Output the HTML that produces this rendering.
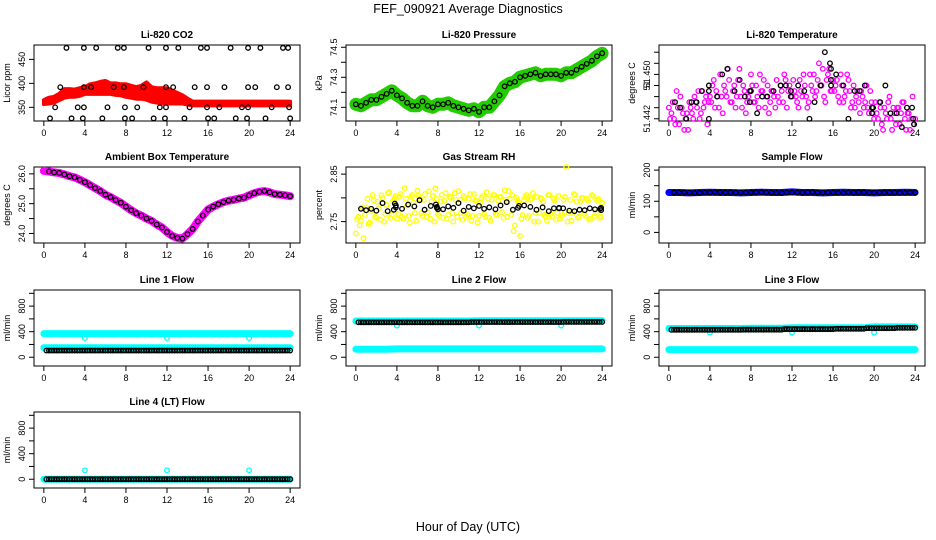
<!DOCTYPE html>
<html><head><meta charset="utf-8"><style>
html,body{margin:0;padding:0;background:#fff;}
svg{display:block;font-family:"Liberation Sans",sans-serif;}
</style></head><body>
<svg id="chart" width="936" height="540" viewBox="0 0 936 540" xmlns="http://www.w3.org/2000/svg">
<rect width="936" height="540" fill="#fff"/>
<text x="468" y="13" text-anchor="middle" font-size="12.5">FEF_090921  Average Diagnostics</text>
<text x="468" y="531" text-anchor="middle" font-size="12.5">Hour of Day (UTC)</text>
</svg>
<script>
// ---- data ----
const co2Upper=[365,370,372,378,388,388,387,390,392,398,400,403,405,400,400,398,398,395,392,395,402,392,390,390,390,385,380,375,368,362,362,362,362,362,362,362,362,362,362,362,362,362,362,362,362,362,362,362,362];
const co2Lower=[357,358,360,365,370,372,372,374,378,378,378,378,378,378,376,375,372,370,368,368,366,362,360,358,358,358,358,358,356,354,354,354,354,354,354,354,354,354,354,354,354,354,354,354,354,354,354,354,354];
const co2BlackHours=[2.2,3.9,5.1,7.2,7.8,10.2,11.9,13.1,15.3,15.9,18.2,19.9,21.1,23.3,23.8,1.6,3.9,4.6,6.8,7.8,9.7,11.9,12.6,14.7,15.9,17.6,19.9,20.6,22.7,23.8,1.1,3.3,3.9,6.2,7.9,9.1,11.3,11.9,14.2,15.9,17.1,19.3,19.9,22.2,23.9,0.6,2.7,3.8,5.7,7.9,8.6,10.7,11.8,13.7,16.0,16.6,18.7,19.8,21.6,24.0];
const co2BlackValues=[474,474,474,474,474,474,474,474,474,474,474,474,474,474,474,392,392,392,392,392,392,392,392,392,392,392,392,392,392,392,350,350,350,350,350,350,350,350,350,350,350,350,350,350,350,327,327,327,327,327,327,327,327,327,327,327,327,327,327,327];
const pressure=[74.12,74.11,74.13,74.15,74.15,74.17,74.19,74.21,74.18,74.16,74.13,74.11,74.11,74.14,74.11,74.10,74.12,74.12,74.13,74.11,74.10,74.09,74.08,74.09,74.07,74.10,74.10,74.14,74.18,74.24,74.26,74.27,74.30,74.31,74.32,74.33,74.31,74.32,74.32,74.32,74.31,74.33,74.33,74.35,74.37,74.39,74.41,74.44,74.46];
const tempBase=51.440; // black offsets: thousandths above base
const tempMagentaBase=51.438; // magenta offsets: thousandths above this base
const tempOffsetA=[6,5,4,9,3,6,2,5,7, 5,8,6,4,9,7,3,8, 10,6,8,12,5,9,13,7, 9,6,11,8,10,5,8,12, 7,10,6,9,11,8,5,9, 8,11,7,9,12,6,10,8, 9,7,11,8,10,6,12,9, 8,11,10,13,7,12,9,11, 10,8,12,7,9,11,6,10, 8,7,9,6,10,5,7,4, 5,7,3,6,4,8,2,5, 6,3,7,4,5,2,8,4];
const tempOffsetB=[4,7,3,6,8,5,4,2, 6,4,7,9,5,6,8,7, 7,11,9,6,8,10,8,11, 7,10,8,13,6,9,7,9, 10,7,8,12,9,6,10,7, 9,6,8,10,7,11,9,8, 11,8,6,9,12,8,7,10, 12,9,14,10,8,11,13,9, 9,11,7,10,8,12,9,7, 6,9,5,8,7,6,9,5, 7,4,6,2,5,7,4,6, 3,6,5,7,2,5,4,3];
const tempBlackHours=[0.6,1.1,1.7,2.2,2.7,3.2,3.9,3.9,3.9,4.7,5.2,5.7,6.4,6.9,7.4,7.9,7.9,8.0,8.6,9.1,9.6,10.2,10.9,11.4,11.9,11.9,12.6,13.2,13.7,14.2,14.8,15.2,15.7,15.8,15.8,15.8,16.3,17.0,17.5,18.1,18.6,19.1,19.8,19.8,19.9,20.6,21.1,21.6,22.2,22.7,23.2,23.7,23.8,23.9];
const tempBlackOffsets=[5,4,2,5,5,7,7,8,2,6,10,11,7,9,6,7,5,7,3,6,6,7,8,8,7,6,8,7,2,5,8,14,12,9,8,11,10,8,2,7,7,8,3,4,4,5,8,3,3,0.5,4,4,2,1];
const ambientTemp=[26.1,26.08,26.05,26.03,25.98,25.92,25.88,25.8,25.72,25.62,25.52,25.42,25.3,25.22,25.12,25.03,24.9,24.78,24.68,24.6,24.5,24.42,24.3,24.2,24.05,23.92,23.85,23.83,23.98,24.15,24.4,24.6,24.8,24.9,24.98,25.05,25.1,25.13,25.17,25.2,25.28,25.35,25.4,25.42,25.38,25.32,25.3,25.28,25.25];
const rhBase=2.700; // offsets are thousandths above base
const rhOffsetA=[25,60,52,15,80,45,72,95,58, 78,105,50,85,112,64,98,56, 102,60,120,84,48,106,68,115, 98,62,108,70,56,104,120,66, 92,58,110,64,100,50,96,114, 68,104,60,98,52,108,94,62, 100,66,112,58,96,106,64,102, 70,116,60,98,106,42,94,20, 64,102,58,96,110,68,50,100, 92,60,106,66,98,54,104,62, 96,165,68,52,108,92,60,100, 66,98,54,106,62,94,58,90];
const rhOffsetB=[55,42,80,64,98,48,106,60, 92,54,100,66,110,58,94,104, 66,108,56,98,62,102,90,52, 104,68,96,60,114,92,50,98, 62,106,94,56,102,68,110,60, 96,54,100,66,108,62,94,48, 90,104,60,98,52,106,66,94, 102,58,96,114,64,30,100,90, 56,94,106,62,98,50,102,68, 98,64,52,106,60,94,68,56, 64,102,50,96,68,106,58,92, 100,62,94,56,104,68,98,60];
const rhBlackHours=[0.5,1.0,1.5,2.0,2.6,3.1,3.7,3.8,3.9,3.9,4.5,5.1,5.7,6.2,6.7,7.3,7.8,7.9,7.9,8.0,8.5,9.0,9.5,10.0,10.5,11.0,11.5,12.0,12.5,13.0,13.6,14.1,14.7,15.3,15.8,15.9,16.4,17.0,17.6,18.2,18.8,19.3,19.8,19.8,20.2,20.8,21.3,21.8,22.3,22.8,23.3,23.8,23.9,23.9];
const rhBlackOffsets=[77,74,77,73,89,72,75,88,80,84,77,86,82,95,75,83,86,79,81,76,76,82,79,89,73,81,78,83,77,80,76,84,91,75,79,83,84,81,75,80,72,78,78,79,78,73,72,75,74,78,76,77,74,79];
const hourly=[0,1,2,3,4,5,6,7,8,9,10,11,12,13,14,15,16,17,18,19,20,21,22,23,24];
const sampleFlowBlue=[128,128,127,128,129,128,128,127,128,129,128,128,130,128,128,127,128,129,128,128,127,128,128,129,128];
const sampleFlowBlack=[127,128,128,127,128,129,128,128,128,129,128,127,128,128,129,128,128,127,128,129,128,128,128,127,128];
const line1Upper=[370,370,370,370,370,370,370,370,370,370,370,370,370,370,370,370,370,370,370,370,370,370,370,370,370];
const line1Lower=[150,150,150,150,150,150,150,150,150,150,150,150,150,150,150,150,150,150,150,150,150,150,150,150,150];
const line1Black=[105,105,105,105,105,105,105,105,105,105,105,105,105,105,105,105,105,105,105,105,105,105,105,105,105];
const line2Upper=[567,567,567,567,567,567,567,567,567,567,567,567,570,570,570,570,570,570,570,570,570,570,570,570,570];
const line2Lower=[126,126,126,126,130,130,130,130,130,130,130,130,130,130,130,130,130,130,130,130,130,130,130,130,130];
const line2Black=[547,547,547,547,547,547,547,547,547,547,547,547,550,550,550,550,550,550,550,550,550,552,552,552,552];
const line3Upper=[450,450,450,450,450,450,450,450,455,455,455,455,460,460,460,460,460,460,460,460,475,475,475,475,475];
const line3Lower=[120,120,120,120,120,120,120,120,120,120,120,120,120,120,120,120,120,120,120,120,120,120,120,120,120];
const line3Black=[430,430,430,430,430,430,430,430,432,432,432,432,440,440,440,440,440,445,445,445,455,455,455,460,460];
const line4Cyan=[0,0,0,0,0,0,0,0,0,0,0,0,0,0,0,0,0,0,0,0,0,0,0,0,0];
const line4Black=[0,0,0,0,0,0,0,0,0,0,0,0,0,0,0,0,0,0,0,0,0,0,0,0,0];
const outlierHours=[4,12,20];
const line1Outliers=[300,300,300];
const line2Outliers=[495,495,495];
const line3Outliers=[385,385,385];
const line4Outliers=[140,140,140];

// ---- layout ----
const svg=document.getElementById('chart');
const NS='http://www.w3.org/2000/svg';
const L=[34,346,659],T=[45,167,290,412],W=266,H=76;
function mk(tag,attrs,parent){const e=document.createElementNS(NS,tag);for(const k in attrs)e.setAttribute(k,attrs[k]);(parent||svg).appendChild(e);return e;}
function X(c,h){return L[c]+W*(h+0.96)/25.92;}
function Yf(r,dom){return v=>T[r]+H*(dom[1]-v)/(dom[1]-dom[0]);}
function halfHours(n,start){const a=[];for(let i=0;i<n;i++)a.push(start+i*0.5);return a;}
function quarter(n,start){const a=[];for(let i=0;i<n;i++)a.push(start+i*0.25);return a;}

function panel(c,r,name,title,ylab,dom,ticks,labels){
  const g=mk('g',{});
  
  
  const y=Yf(r,dom);
  const t=mk('text',{x:L[c]+W/2,y:T[r]-7,'text-anchor':'middle','font-size':10,'font-weight':'bold'},g);
  t.textContent=title;
  
  
  const yl=mk('text',{transform:`translate(${L[c]-24},${T[r]+H/2}) rotate(-90)`,'text-anchor':'middle','font-size':9},g);
  yl.textContent=ylab;
  
  
  for(let h=0;h<=24;h+=4){
    const x=X(c,h);
    mk('line',{x1:x,x2:x,y1:T[r]+H,y2:T[r]+H+5,stroke:'#000','stroke-width':1},g);
    const tl=mk('text',{x:x,y:T[r]+H+15,'text-anchor':'middle','font-size':9},g);
    tl.textContent=h;
    
    
  }
  mk('line',{x1:X(c,0),x2:X(c,24),y1:T[r]+H,y2:T[r]+H,stroke:'#000'},g);
  ticks.forEach((v,i)=>{
    const yy=y(v);
    mk('line',{x1:L[c]-5,x2:L[c],y1:yy,y2:yy,stroke:'#000'},g);
    if(labels[i]){
      const tl=mk('text',{transform:`translate(${L[c]-9},${yy}) rotate(-90)`,'text-anchor':'middle','font-size':9},g);
      tl.textContent=labels[i];
      
      
    }
  });
  mk('line',{x1:L[c],x2:L[c],y1:y(ticks[0]),y2:y(ticks[ticks.length-1]),stroke:'#000'},g);
  const box=mk('rect',{x:L[c],y:T[r],width:W,height:H,fill:'none',stroke:'#000','stroke-width':1},g);
  
  
  const clip=mk('g',{},g);
  return {g:clip,y:y,c:c};
}
function pts(p,hours,vals,color,name,r){
  const g=mk('g',{},p.g);
  
  
  hours.forEach((h,i)=>{
    const e=mk('circle',{cx:X(p.c,h),cy:p.y(vals[i]),r:r||2.3,fill:'none',stroke:color,'stroke-width':1.3},g);
    
    
  });
}
function band(p,hours,vals,color,name,w){
  const d=hours.map((h,i)=>(i?'L':'M')+X(p.c,h).toFixed(1)+','+p.y(vals[i]).toFixed(1)).join('');
  const e=mk('path',{d:d,fill:'none',stroke:color,'stroke-width':w,'stroke-linecap':'round','stroke-linejoin':'round'},p.g);
  
  
}
function area(p,hours,up,lo,color,name){
  let d=hours.map((h,i)=>(i?'L':'M')+X(p.c,h).toFixed(1)+','+p.y(up[i]).toFixed(1)).join('');
  for(let i=hours.length-1;i>=0;i--)d+='L'+X(p.c,hours[i]).toFixed(1)+','+p.y(lo[i]).toFixed(1);
  d+='Z';
  const e=mk('path',{d:d,fill:color,stroke:color,'stroke-width':4,'stroke-linejoin':'round'},p.g);
  
  
}
const hh49=halfHours(49,0);
const flowTicks=[0,200,400,600,800,1000], flowLabels=['0','','400','','800',''], flowDom=[-137,1052];

let p=panel(0,0,'co2','Li-820 CO2','Licor ppm',[321.5,480],[350,400,450],['350','400','450']);
area(p,hh49,co2Upper,co2Lower,'#ff0000','co2-red-series');
pts(p,co2BlackHours,co2BlackValues,'#000','co2-black-series');

p=panel(1,0,'pressure','Li-820 Pressure','kPa',[74.009,74.515],[74.1,74.2,74.3,74.4,74.5],['74.1','','74.3','','74.5']);
band(p,hh49,pressure,'#22cc00','pressure-green-series',13);
pts(p,hh49,pressure,'#000','pressure-black-series');

p=panel(2,0,'li820-temp','Li-820 Temperature','degrees C',[51.4416,51.4553],[51.442,51.444,51.446,51.448,51.450,51.452,51.454],['51.442','','','51','51.450','','']);
pts(p,quarter(97,0),tempOffsetA.map(v=>tempMagentaBase+v/1000),'#ff00ff','temp-magenta-series-a');
pts(p,quarter(96,0.125),tempOffsetB.map(v=>tempMagentaBase+v/1000),'#ff00ff','temp-magenta-series-b');
pts(p,tempBlackHours,tempBlackOffsets.map(v=>tempBase+v/1000),'#000','temp-black-series');

p=panel(0,1,'ambient','Ambient Box Temperature','degrees C',[23.68,26.23],[24,24.5,25,25.5,26],['24.0','','25.0','','26.0']);
band(p,hh49,ambientTemp,'#ff00ff','ambient-magenta-series',8);
pts(p,hh49.slice(1),ambientTemp.slice(1),'#000','ambient-black-series');

p=panel(1,1,'rh','Gas Stream RH','percent',[2.705,2.865],[2.75,2.80,2.85],['2.75','','2.85']);
pts(p,quarter(97,0),rhOffsetA.map(v=>rhBase+v/1000),'#ffff00','rh-yellow-series-a');
pts(p,quarter(96,0.125),rhOffsetB.map(v=>rhBase+v/1000),'#ffff00','rh-yellow-series-b');
pts(p,rhBlackHours,rhBlackOffsets.map(v=>rhBase+v/1000),'#000','rh-black-series');

p=panel(2,1,'sample-flow','Sample Flow','ml/min',[-34,210],[0,50,100,150,200],['0','','100','','200']);
band(p,hourly,sampleFlowBlue,'#0000ff','sample-flow-blue-series',7);
pts(p,hourly.slice(1),sampleFlowBlack.slice(1),'#000','sample-flow-black-series');
pts(p,hourly.slice(1).map(h=>h-0.5),sampleFlowBlack.slice(1),'#000','sample-flow-black-series-b');

function flowPanel(c,r,name,title,upper,lower,black,outl){
  const p=panel(c,r,name,title,'ml/min',flowDom,flowTicks,flowLabels);
  if(upper)band(p,hourly,upper,'#00ffff',name+'-cyan-upper',7);
  if(lower)band(p,hourly,lower,'#00ffff',name+'-cyan-lower',7);
  pts(p,outlierHours,outl,'#00ffff',name+'-cyan-outliers');
  pts(p,hourly.slice(1),black.slice(1),'#000',name+'-black-series');
  pts(p,hourly.slice(1).map(h=>h-0.5),black.slice(1),'#000',name+'-black-series-b');
  pts(p,hourly.slice(1).map(h=>h-0.25),black.slice(1),'#000',name+'-black-series-c');
  pts(p,hourly.slice(1).map(h=>h-0.75),black.slice(1),'#000',name+'-black-series-d');
}
flowPanel(0,2,'line1-flow','Line 1 Flow',line1Upper,line1Lower,line1Black,line1Outliers);
flowPanel(1,2,'line2-flow','Line 2 Flow',line2Upper,line2Lower,line2Black,line2Outliers);
flowPanel(2,2,'line3-flow','Line 3 Flow',line3Upper,line3Lower,line3Black,line3Outliers);
flowPanel(0,3,'line4-flow','Line 4 (LT) Flow',line4Cyan,null,line4Black,line4Outliers);
</script>
</body></html>
